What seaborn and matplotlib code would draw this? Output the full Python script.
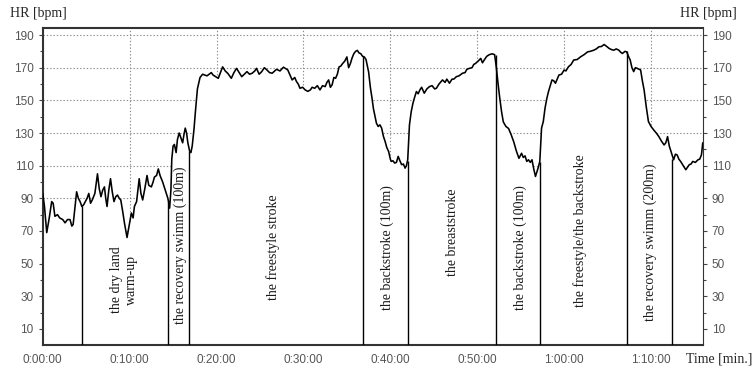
import numpy as np
import pandas as pd
import matplotlib
matplotlib.use("Agg")
import matplotlib.pyplot as plt
import seaborn as sns
from matplotlib.ticker import FixedLocator, MultipleLocator

# heart rate trace (time in minutes, HR in bpm)
time_min = [0.0, 0.2, 0.46, 0.75, 1.03, 1.2, 1.4, 1.7, 1.95, 2.3, 2.57, 2.85, 3.14, 3.35, 3.5, 3.7, 3.9, 4.1,
            4.3, 4.5, 4.7, 4.9, 5.1, 5.3, 5.5, 5.7, 6.0, 6.3, 6.5, 6.7, 6.9, 7.1, 7.25, 7.4, 7.6, 7.8, 8.0,
            8.2, 8.4, 8.6, 8.8, 8.98, 9.2, 9.4, 9.7, 9.9, 10.2, 10.4, 10.55, 10.8, 11.1, 11.3, 11.5, 11.75,
            12.0, 12.2, 12.5, 12.7, 12.85, 13.1, 13.3, 13.5, 13.8, 14.1, 14.4, 14.6, 14.75, 14.85, 15.0,
            15.15, 15.35, 15.5, 15.7, 15.9, 16.1, 16.25, 16.4, 16.55, 16.7, 16.9, 17.05, 17.2, 17.4, 17.6,
            17.8, 18.1, 18.4, 18.9, 19.4, 19.6, 20.2, 20.7, 21.0, 21.3, 21.7, 22.0, 22.3, 22.6, 22.9, 23.2,
            23.5, 23.8, 24.1, 24.4, 24.6, 24.9, 25.2, 25.5, 25.8, 26.1, 26.4, 26.7, 26.9, 27.3, 27.7, 28.2,
            28.5, 28.7, 29.0, 29.2, 29.4, 29.6, 29.9, 30.2, 30.5, 30.8, 31.0, 31.3, 31.6, 31.9, 32.2, 32.5,
            32.7, 32.9, 33.1, 33.3, 33.5, 33.7, 33.9, 34.1, 34.3, 34.5, 34.75, 35.0, 35.2, 35.4, 35.6, 35.8,
            36.0, 36.2, 36.4, 36.6, 36.8, 37.0, 37.2, 37.5, 37.7, 37.9, 38.05, 38.2, 38.4, 38.6, 38.8, 39.0,
            39.2, 39.4, 39.6, 39.8, 40.0, 40.1, 40.3, 40.5, 40.7, 40.9, 41.1, 41.3, 41.5, 41.7, 41.85, 42.0,
            42.2, 42.4, 42.6, 42.8, 43.0, 43.2, 43.4, 43.6, 43.9, 44.2, 44.5, 44.8, 45.1, 45.3, 45.6, 46.0,
            46.3, 46.5, 46.8, 47.1, 47.3, 47.6, 47.9, 48.3, 48.6, 48.8, 49.1, 49.4, 49.6, 49.8, 50.1, 50.4,
            50.6, 50.8, 51.1, 51.4, 51.7, 52.0, 52.2, 52.4, 52.6, 52.8, 53.0, 53.3, 53.6, 53.9, 54.2, 54.5,
            54.8, 55.1, 55.3, 55.5, 55.7, 55.9, 56.1, 56.3, 56.5, 56.7, 56.85, 57.0, 57.2, 57.4, 57.6, 57.8,
            58.0, 58.2, 58.4, 58.6, 58.8, 59.0, 59.2, 59.4, 59.7, 60.0, 60.2, 60.5, 60.8, 61.1, 61.5, 61.9,
            62.3, 62.7, 63.0, 63.4, 63.7, 64.0, 64.3, 64.6, 64.9, 65.2, 65.5, 65.7, 66.0, 66.3, 66.5, 66.7,
            67.0, 67.2, 67.4, 67.6, 67.8, 68.0, 68.2, 68.4, 68.8, 69.0, 69.2, 69.45, 69.7, 70.0, 70.3, 70.6,
            70.9, 71.2, 71.5, 71.7, 71.9, 72.1, 72.3, 72.6, 72.8, 73.0, 73.2, 73.4, 73.7, 74.0, 74.2, 74.4,
            74.6, 74.8, 75.1, 75.4, 75.6, 75.8, 75.95]
hr_bpm = [93, 85, 69, 78, 88, 87, 79, 80, 78, 77, 75, 77, 77, 73, 74, 84, 94, 90,
          88, 85, 86, 88, 90, 93, 87, 89, 93, 105, 96, 91, 95, 97, 90, 85, 95, 102, 94,
          88, 91, 92, 90, 89, 82, 75, 66, 72, 81, 78, 85, 88, 102, 93, 89, 96,
          104, 98, 97, 100, 103, 104, 108, 104, 100, 95, 90, 84, 95, 114, 122,
          123, 118, 126, 130, 127, 124, 129, 133, 130, 124, 119, 118, 122, 132, 145,
          157, 164, 166, 165, 167, 165.5, 163.5, 170.5, 168, 166.5, 163.5, 167, 169.6, 167, 164.5, 166,
          167.6, 166, 166.6, 168, 169.6, 166, 167.6, 170, 168.6, 167, 166.6, 168, 169, 168, 170.3, 168.6,
          165, 162.5, 164, 161.5, 160, 157.4, 158, 156.4, 155.5, 156.4, 158, 157.4, 159, 156.4, 159, 158.4,
          161, 162.5, 158, 159.5, 164, 163.5, 166, 170.5, 171, 172.5, 174, 176.6, 170, 172.5, 176, 178.6,
          180, 180.6, 179, 178.6, 177, 176.6, 175, 167.4, 158, 151, 145, 141, 136, 134, 135, 133,
          128, 124.8, 121, 118.7, 114, 112.6, 113, 111.6, 112, 115.7, 113, 110.6, 111, 108.5, 110, 113.6,
          135, 143, 148.2, 152, 155.4, 154, 156.4, 158, 154.4, 157, 158.4, 159, 157, 157.4, 160, 162.5,
          161, 163, 160.5, 163, 163, 164.5, 165, 166.6, 167, 169, 169.6, 170, 172, 172.6, 174, 175.7,
          173, 174.7, 177, 178, 178.5, 178, 170, 160, 151, 143, 136.8, 134, 132.8, 129, 124.6, 119,
          114.5, 117.6, 115, 116, 112.6, 113.6, 112, 113.6, 108, 103.4, 106, 108.5, 112.6, 133, 137, 145.2,
          151, 155.4, 159, 162.5, 162, 160.5, 163, 165.5, 166, 168.6, 168, 170.6, 172, 174.7, 175, 176.7,
          178, 179.7, 180, 180.7, 181.5, 182.8, 183, 184.2, 183, 181.7, 181, 180.7, 181.5, 180.7, 179.5, 178.7,
          180, 179.7, 177, 174.7, 170, 167.6, 170, 169.6, 168.6, 162, 156.4, 146, 137, 134, 131.9, 130,
          127.8, 125, 122.7, 124, 127.8, 122, 118.7, 113.6, 117, 116.6, 114, 112.6, 110, 107.5, 109, 110.6,
          111, 112.6, 112, 113.6, 114, 116.6, 124]

# phase boundaries (minutes) and the HR where each line meets the trace
boundary_min = [4.49, 14.38, 16.87, 36.9, 42.07, 52.15, 57.2, 67.2, 72.45]
boundary_top = [85, 88, 119, 177, 113, 178, 112, 180, 114]

# phase labels
phase_labels = ["the dry land\nwarm-up", "the recovery swimm (100m)", "the freestyle stroke",
                "the backstroke (100m)", "the breaststroke", "the backstroke (100m)",
                "the freestyle/the backstroke", "the recovery swimm (200m)"]
phase_x = [9.3, 15.8, 26.5, 39.6, 47.1, 54.9, 61.8, 69.9]
phase_y = [40, 61, 60, 60, 69, 60, 70, 63]

x_ticks = [0, 10, 20, 30, 40, 50, 60, 70]
x_ticklabels = ["0:00:00", "0:10:00", "0:20:00", "0:30:00", "0:40:00", "0:50:00", "1:00:00", "1:10:00"]
y_ticks = [10, 30, 50, 70, 90, 110, 130, 150, 170, 190]

df = pd.DataFrame({"t": time_min, "hr": hr_bpm})

sns.set_style("white")
plt.rcParams["font.family"] = ["Liberation Sans", "DejaVu Sans"]

fig = plt.figure(figsize=(7.55, 3.72), dpi=100)
ax = fig.add_axes([0.0566, 0.0718, 0.8742, 0.8529])

# white area under the trace hides the grid below the curve
ax.fill_between(df["t"], 0, df["hr"], color="white", zorder=1.5, linewidth=0)
sns.lineplot(data=df, x="t", y="hr", ax=ax, color="black", linewidth=1.15, zorder=3)

ax.vlines(boundary_min, 0, boundary_top, colors="black", linewidth=1.0, zorder=3)

for lab, xx, yy in zip(phase_labels, phase_x, phase_y):
    ax.text(xx, yy, lab, rotation=90, ha="center", va="center", multialignment="center",
            fontsize=10, family=["Liberation Serif", "DejaVu Serif"], color="#1a1a1a", zorder=4)

ax.set_xlim(0, 75.95)
ax.set_ylim(0, 194.3)
ax.xaxis.set_major_locator(FixedLocator(x_ticks))
ax.set_xticklabels(x_ticklabels)
ax.xaxis.set_minor_locator(MultipleLocator(5))
ax.yaxis.set_major_locator(FixedLocator(y_ticks))
ax.yaxis.set_minor_locator(FixedLocator([20, 40, 60, 80, 100, 120, 140, 160, 180]))

ax.grid(True, which="major", color="#8a8a8a", linestyle=(0, (1.2, 1.8)), linewidth=0.8, zorder=1)
ax.set_axisbelow(True)

ax.tick_params(axis="both", which="both", direction="out", colors="#444444", labelsize=8.5, length=3, width=0.8)
ax.tick_params(axis="y", which="both", left=True, right=True, labelleft=True, labelright=True)
ax.tick_params(axis="both", which="minor", length=2)
for lbl in ax.get_xticklabels() + ax.get_yticklabels():
    lbl.set_color("#555555")

for side in ["top", "left", "bottom"]:
    ax.spines[side].set_linewidth(1.5)
    ax.spines[side].set_color("#333333")
ax.spines["right"].set_linewidth(0.8)
ax.spines["right"].set_color("#333333")

ax.set_xlabel("")
ax.set_ylabel("")

serif = ["Liberation Serif", "DejaVu Serif"]
fig.text(10 / 755, 1 - 14 / 372, "HR [bpm]", ha="left", va="center", fontsize=10, family=serif)
fig.text(737 / 755, 1 - 14 / 372, "HR [bpm]", ha="right", va="center", fontsize=10, family=serif)
fig.text(752 / 755, 1 - 359 / 372, "Time [min.]", ha="right", va="center", fontsize=10, family=serif)

fig.savefig("out.png", dpi=100)
